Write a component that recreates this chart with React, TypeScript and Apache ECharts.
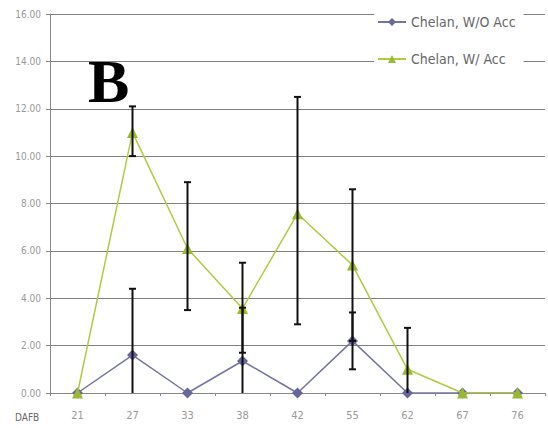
import React, { useEffect, useRef } from "react";
import * as echarts from "echarts";

const categories = ["21", "27", "33", "38", "42", "55", "62", "67", "76"];
const woAccValues = [0, 1.6, 0, 1.35, 0, 2.2, 0, 0, 0];
const wAccValues = [0, 11.0, 6.1, 3.57, 7.57, 5.4, 1.0, 0, 0];
const woAccLow: (number | null)[] = [null, 0, null, 0, null, 1.0, null, null, null];
const woAccHigh: (number | null)[] = [null, 4.4, null, 3.6, null, 3.4, null, null, null];
const wAccLow: (number | null)[] = [null, 10.0, 3.5, 1.7, 2.9, 2.2, 0, null, null];
const wAccHigh: (number | null)[] = [null, 12.1, 8.9, 5.5, 12.5, 8.6, 2.75, null, null];
const seriesNames = ["Chelan, W/O Acc", "Chelan, W/ Acc"];
const xAxisName = "DAFB";
const panelLetter = "B";

const NARROW = "'Liberation Sans Narrow', 'DejaVu Sans Condensed', 'Liberation Sans', sans-serif";

function errorData(low: (number | null)[], high: (number | null)[]) {
  const out: any[] = [];
  low.forEach((lo, i) => {
    const hi = high[i];
    if (lo !== null && hi !== null) out.push([i, lo, hi]);
  });
  return out;
}

function renderError(params: any, api: any) {
  const idx = api.value(0);
  const lo = api.value(1);
  const hi = api.value(2);
  const pLo = api.coord([idx, lo]);
  const pHi = api.coord([idx, hi]);
  const hw = 3.5;
  const style = { stroke: "#111", lineWidth: 2 };
  const children: any[] = [
    { type: "line", shape: { x1: pLo[0], y1: pLo[1], x2: pHi[0], y2: pHi[1] }, style },
    { type: "line", shape: { x1: pHi[0] - hw, y1: pHi[1], x2: pHi[0] + hw, y2: pHi[1] }, style },
  ];
  if (lo > 0) {
    children.push({ type: "line", shape: { x1: pLo[0] - hw, y1: pLo[1], x2: pLo[0] + hw, y2: pLo[1] }, style });
  }
  return { type: "group", children };
}

export default function App() {
  const ref = useRef<HTMLDivElement>(null);
  useEffect(() => {
    if (!ref.current) return;
    const chart = echarts.init(ref.current, null, { renderer: "svg" });
    chart.setOption({
      animation: false,
      backgroundColor: "#fff",
      grid: { left: 50, right: 3, top: 14, bottom: 35, containLabel: false },
      legend: {
        orient: "vertical",
        left: 374,
        top: 4,
        padding: [10, 8, 4, 3],
        itemGap: 21,
        itemWidth: 28,
        itemHeight: 10,
        backgroundColor: "#fff",
        data: seriesNames,
        textStyle: { color: "#666", fontSize: 14, lineHeight: 16, fontFamily: NARROW },
      },
      xAxis: {
        type: "category",
        data: categories,
        boundaryGap: true,
        axisLine: { lineStyle: { color: "#888", width: 1 } },
        axisTick: { show: true, length: 3, lineStyle: { color: "#888" } },
        axisLabel: { color: "#999", fontSize: 11, margin: 17, fontFamily: NARROW },
        splitLine: { show: false },
      },
      yAxis: {
        type: "value",
        min: 0,
        max: 16,
        interval: 2,
        axisLine: { show: true, lineStyle: { color: "#888", width: 1 } },
        axisTick: { show: true, length: 4, lineStyle: { color: "#888" } },
        axisLabel: {
          color: "#999",
          fontSize: 10,
          margin: 9,
          fontFamily: NARROW,
          formatter: (v: number) => v.toFixed(2),
        },
        splitLine: { show: true, lineStyle: { color: "#808080", width: 1.2 } },
      },
      graphic: [
        {
          type: "text",
          left: 88,
          top: 50,
          style: {
            text: panelLetter,
            fontFamily: "'Liberation Serif', 'DejaVu Serif', serif",
            fontWeight: "bold",
            fontSize: 62,
            fill: "#000",
          },
        },
        {
          type: "text",
          left: 15,
          top: 412,
          style: { text: xAxisName, fontFamily: NARROW, fontSize: 10, fill: "#666" },
        },
      ],
      series: [
        {
          name: seriesNames[0],
          type: "line",
          data: woAccValues,
          symbol: "diamond",
          symbolSize: 11,
          lineStyle: { color: "#7474a4", width: 1.5 },
          itemStyle: { color: "#66669a" },
          z: 2,
        },
        {
          name: seriesNames[1],
          type: "line",
          data: wAccValues,
          symbol: "triangle",
          symbolSize: 11,
          lineStyle: { color: "#b2c940", width: 1.5 },
          itemStyle: { color: "#9ab832" },
          z: 3,
        },
        {
          type: "custom",
          renderItem: renderError,
          data: errorData(woAccLow, woAccHigh),
          z: 5,
          silent: true,
        },
        {
          type: "custom",
          renderItem: renderError,
          data: errorData(wAccLow, wAccHigh),
          z: 5,
          silent: true,
        },
      ],
    });
    return () => chart.dispose();
  }, []);
  return (
    <div
      ref={ref}
      style={{ position: "fixed", left: 0, top: 0, width: 548, height: 428 }}
    />
  );
}
